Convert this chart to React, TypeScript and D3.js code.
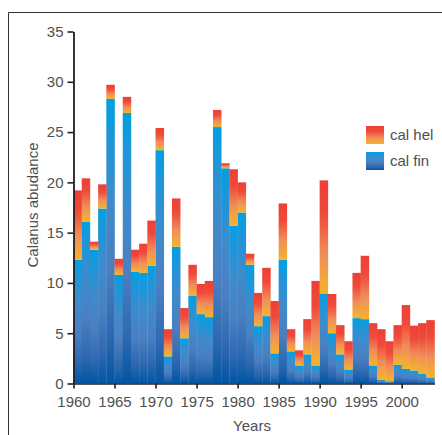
import { useRef, useEffect } from 'react';
import * as d3 from 'd3';

const WIDTH = 442;
const HEIGHT = 435;

const years = [
  1960, 1961, 1962, 1963, 1964, 1965, 1966, 1967, 1968, 1969,
  1970, 1971, 1972, 1973, 1974, 1975, 1976, 1977, 1978, 1979,
  1980, 1981, 1982, 1983, 1984, 1985, 1986, 1987, 1988, 1989,
  1990, 1991, 1992, 1993, 1994, 1995, 1996, 1997, 1998, 1999,
  2000, 2001, 2002, 2003,
];

// cal fin (bottom segment)
const calFin = [
  12.3, 16.1, 13.3, 17.4, 28.3, 10.8, 26.9, 11.1, 11.0, 11.7,
  23.2, 2.7, 13.6, 4.5, 8.7, 6.9, 6.6, 25.5, 21.4, 15.7,
  17.0, 11.8, 5.7, 6.7, 3.0, 12.3, 3.2, 1.8, 2.9, 1.8,
  8.9, 5.0, 2.9, 1.4, 6.5, 6.4, 1.8, 0.35, 0.23, 1.85,
  1.45, 1.3, 1.0, 0.6,
];

// cal hel (stacked on top)
const calHel = [
  6.9, 4.3, 0.8, 2.4, 1.4, 1.6, 1.6, 2.2, 2.9, 4.5,
  2.2, 2.7, 4.8, 3.0, 3.1, 3.0, 3.6, 1.7, 0.5, 5.6,
  3.0, 1.1, 3.3, 4.8, 5.2, 5.6, 2.2, 1.5, 3.5, 8.4,
  11.3, 3.9, 2.9, 2.8, 4.5, 6.3, 4.2, 5.05, 3.97, 3.95,
  6.35, 4.45, 5.0, 5.7,
];

const xTicks = [1960, 1965, 1970, 1975, 1980, 1985, 1990, 1995, 2000];
const yTicks = [0, 5, 10, 15, 20, 25, 30, 35];

const series = [
  { key: 'hel', label: 'cal hel' },
  { key: 'fin', label: 'cal fin' },
];

const TEXT = '#4f4f4f';
const AXIS = '#231f20';
const FONT = '"Liberation Sans", Arial, Helvetica, sans-serif';

export default function App() {
  const svgRef = useRef<SVGSVGElement>(null);

  useEffect(() => {
    const svg = d3.select(svgRef.current);
    svg.selectAll('*').remove();

    const x = d3.scaleLinear().domain([1960, 2004]).range([73.5, 434.5]);
    const y = d3.scaleLinear().domain([0, 35]).range([383.5, 31.5]);

    const defs = svg.append('defs');
    const finGrad = defs.append('linearGradient').attr('id', 'grad-fin')
      .attr('x1', 0).attr('y1', 0).attr('x2', 0).attr('y2', 1);
    [[0, '#00a0e2'], [0.12, '#1a97da'], [0.35, '#3f8bcc'], [0.6, '#4a7fc1'], [0.85, '#2a66b0'], [1, '#0055a3']]
      .forEach(([o, c]) => finGrad.append('stop').attr('offset', o as number).attr('stop-color', c as string));
    const helGrad = defs.append('linearGradient').attr('id', 'grad-hel')
      .attr('x1', 0).attr('y1', 0).attr('x2', 0).attr('y2', 1);
    [[0, '#ee3f35'], [0.3, '#ef4a3a'], [0.65, '#f08d5a'], [0.9, '#f2aa3a'], [1, '#f3b22a']]
      .forEach(([o, c]) => helGrad.append('stop').attr('offset', o as number).attr('stop-color', c as string));

    // frame
    svg.append('path')
      .attr('d', `M8.5,${HEIGHT + 2}V12.5H${WIDTH + 2}`)
      .attr('fill', 'none').attr('stroke', '#333').attr('stroke-width', 1);

    const rows = years.map((yr, i) => ({ year: yr, fin: calFin[i], hel: calHel[i] }));
    const stacked = d3.stack<any>().keys(['fin', 'hel'])(rows);

    const g = svg.append('g');
    stacked.forEach(layer => {
      g.append('g')
        .selectAll('rect')
        .data(layer)
        .join('rect')
        .attr('x', d => x(d.data.year))
        .attr('width', d => x(d.data.year + 1) - x(d.data.year) + 0.3)
        .attr('y', d => y(d[1]))
        .attr('height', d => Math.max(0, y(d[0]) - y(d[1])))
        .attr('fill', `url(#grad-${layer.key})`);
    });

    // X axis
    const xAxis = svg.append('g')
      .attr('transform', `translate(0,${y(0)})`)
      .call(d3.axisBottom(x).tickValues(xTicks).tickFormat(d3.format('d')).tickSize(5).tickSizeOuter(0));
    xAxis.select('.domain').attr('stroke', AXIS).attr('stroke-width', 1.6);
    xAxis.selectAll('.tick line').attr('stroke', AXIS).attr('stroke-width', 1.6);
    xAxis.selectAll('.tick text')
      .attr('fill', TEXT).attr('font-size', 15).attr('font-family', FONT).attr('dy', '1em');

    // Y axis
    const yAxis = svg.append('g')
      .attr('transform', `translate(${x(1960)},0)`)
      .call(d3.axisLeft(y).tickValues(yTicks).tickSize(6).tickSizeOuter(0));
    yAxis.select('.domain').attr('stroke', AXIS).attr('stroke-width', 1.8);
    yAxis.selectAll('.tick line').attr('stroke', AXIS).attr('stroke-width', 1.6);
    yAxis.selectAll('.tick text')
      .attr('fill', TEXT).attr('font-size', 15).attr('font-family', FONT).attr('x', -10);

    // axis titles
    svg.append('text')
      .attr('x', 252).attr('y', 431)
      .attr('text-anchor', 'middle')
      .attr('fill', TEXT).attr('font-size', 15).attr('font-family', FONT)
      .text('Years');
    svg.append('text')
      .attr('transform', 'translate(38,205) rotate(-90)')
      .attr('text-anchor', 'middle')
      .attr('fill', TEXT).attr('font-size', 15).attr('font-family', FONT)
      .text('Calanus abudance');

    // legend
    const legend = svg.append('g').attr('transform', 'translate(366,126)');
    series.forEach((s, i) => {
      const row = legend.append('g').attr('transform', `translate(0,${i * 26})`);
      row.append('rect').attr('width', 18).attr('height', 18).attr('fill', `url(#grad-${s.key})`);
      row.append('text')
        .attr('x', 24).attr('y', 9).attr('dy', '0.35em')
        .attr('fill', TEXT).attr('font-size', 15).attr('font-family', FONT)
        .text(s.label);
    });
  }, []);

  return (
    <svg
      ref={svgRef}
      width={WIDTH}
      height={HEIGHT}
      style={{ position: 'absolute', left: 0, top: 0, background: '#fff' }}
    />
  );
}
